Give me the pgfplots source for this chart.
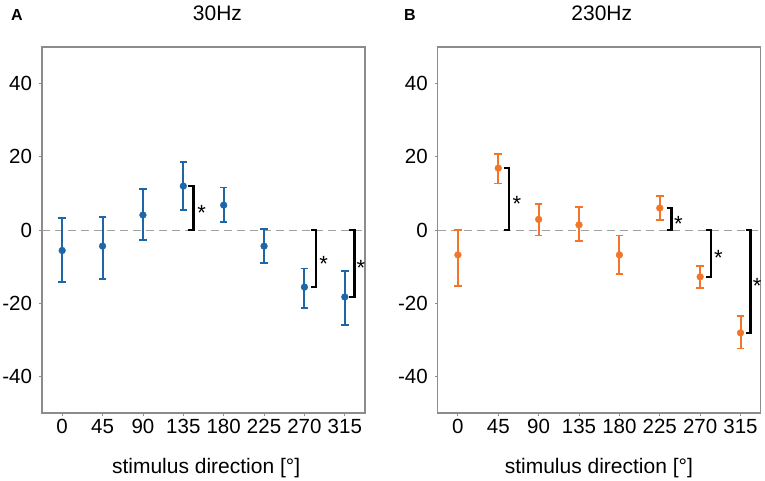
\documentclass[border=0pt]{standalone}
\usepackage{fontspec}
\setmainfont{Liberation Sans}
\usepackage{pgfplots}
\usepackage{pgfplotstable}
\pgfplotsset{compat=1.18}
\definecolor{cblue}{RGB}{31,102,166}
\definecolor{corange}{RGB}{243,118,40}
\definecolor{axgray}{RGB}{140,140,140}
\definecolor{zgray}{RGB}{160,160,160}

% x = direction, y = mean, ep = error up, em = error down
\pgfplotstableread{
x   y     ep   em
0   -5.6  8.8  8.7
45  -4.4  7.9  8.9
90   4.1  7.1  6.9
135 12.0  6.5  6.5
180  6.8  4.8  4.7
225 -4.4  4.75 4.6
270 -15.6 5.1  5.8
315 -18.3 7.1  7.6
}\lowfreq
\pgfplotstableread{
x   y     ep   em
0   -6.8  6.8  8.4
45  16.9  3.9  4.2
90   2.9  4.1  4.4
135  1.4  4.8  4.4
180 -6.8  5.3  5.3
225  6.0  3.2  3.2
270 -12.8 2.9  3.1
315 -28.1 4.6  4.3
}\highfreq

\pgfplotsset{
 every axis title shift=0pt,
 panel/.style={
  scale only axis, width=323pt, height=366pt,
  anchor=south west, clip=false,
  xmin=-22.5, xmax=337.5, ymin=-50, ymax=50,
  xtick={0,45,90,135,180,225,270,315},
  xticklabels={0,45,90,135,180,225,270,315},
  ytick={-40,-20,0,20,40},
  yticklabels={-40,-20,0,20,40},
  xtick pos=left, ytick pos=left,
  tick align=outside, major tick length=3pt,
  tick style={axgray, line width=0.8pt},
  axis line style={axgray, line width=1.1pt},
  tick label style={font=\fontsize{20.5}{24}\selectfont},
  yticklabel style={xshift=-3.5pt},
  xlabel={stimulus direction [°]},
  label style={font=\fontsize{21}{25}\selectfont},
  title style={font=\fontsize{21}{25}\selectfont, anchor=base},
 },
 bracket/.style={black, line width=2.6pt, forget plot},
 zeroline/.style={zgray, dash pattern=on 8pt off 5pt, line width=0.9pt, forget plot},
}
\newcommand{\sigstar}[2]{\node[font=\fontsize{22}{26}\selectfont, inner sep=0pt, anchor=center, yshift=-4.9pt] at (axis cs:#1,#2) {*};}

\begin{document}
\begin{tikzpicture}
\useasboundingbox (0,0) rectangle (765pt,480pt);

\begin{axis}[panel, at={(42pt,67pt)},
  title={30Hz}, title style={at={(axis description cs:0.5433,1.0719)}},
  xlabel style={at={(axis description cs:0.508,-0.1648)}, anchor=base}]
\addplot[zeroline] coordinates {(-22.5,0) (337.5,0)};
\addplot[cblue, only marks, mark=*, mark size=3.4pt,
  error bars/.cd, y dir=both, y explicit,
  error bar style={cblue, line width=2pt},
  error mark options={rotate=90, cblue, line width=1.8pt, mark size=3.8pt}]
  table[x=x, y=y, y error plus=ep, y error minus=em] {\lowfreq};
\addplot[bracket] coordinates {(140.6,12.0) (146.2,12.0) (146.2,0) (140.6,0)};
\addplot[bracket] coordinates {(277.4,-15.6) (283.0,-15.6) (283.0,0) (277.4,0)};
\addplot[bracket] coordinates {(320.0,-18.3) (325.6,-18.3) (325.6,0) (320.0,0)};
\sigstar{155.5}{6.0}
\sigstar{291.5}{-7.8}
\sigstar{333.0}{-9.15}
\node[font=\fontsize{16}{19}\selectfont\bfseries, anchor=base] at (axis description cs:-0.0774,1.0719) {A};
\end{axis}

\begin{axis}[panel, at={(437.7pt,67pt)},
  title={230Hz}, title style={at={(axis description cs:0.508,1.0719)}},
  xlabel style={at={(axis description cs:0.499,-0.1648)}, anchor=base}]
\addplot[zeroline] coordinates {(-22.5,0) (337.5,0)};
\addplot[corange, only marks, mark=*, mark size=3.4pt,
  error bars/.cd, y dir=both, y explicit,
  error bar style={corange, line width=2pt},
  error mark options={rotate=90, corange, line width=1.8pt, mark size=3.8pt}]
  table[x=x, y=y, y error plus=ep, y error minus=em] {\highfreq};
\addplot[bracket] coordinates {(51.5,16.9) (57.1,16.9) (57.1,0) (51.5,0)};
\addplot[bracket] coordinates {(232.7,6.0) (238.3,6.0) (238.3,0) (232.7,0)};
\addplot[bracket] coordinates {(276.4,-12.8) (282.0,-12.8) (282.0,0) (276.4,0)};
\addplot[bracket] coordinates {(320.7,-28.1) (326.3,-28.1) (326.3,0) (320.7,0)};
\sigstar{65.7}{8.45}
\sigstar{245.8}{3.0}
\sigstar{290.4}{-6.4}
\sigstar{333.5}{-14.05}
\node[font=\fontsize{16}{19}\selectfont\bfseries, anchor=base] at (axis description cs:-0.0863,1.0719) {B};
\end{axis}
\end{tikzpicture}
\end{document}
